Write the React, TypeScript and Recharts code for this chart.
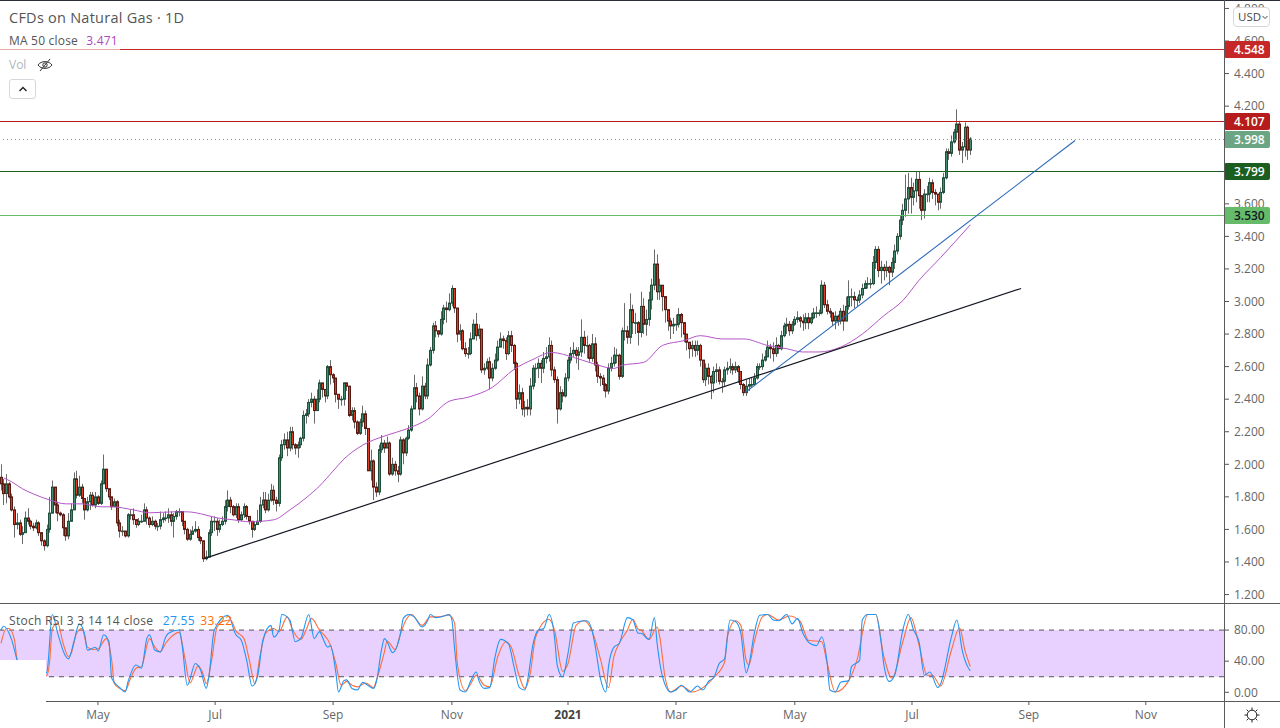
import React from "react";
import { ComposedChart, Bar, Line, XAxis, YAxis, ReferenceLine, ReferenceArea } from "recharts";

const FONT = "'Open Sans', sans-serif";

// daily closes, one per bar
const closes = [
  1.88,1.82,1.88,1.80,1.72,1.63,1.64,1.57,1.58,1.67,
  1.65,1.62,1.61,1.64,1.58,1.53,1.50,1.60,1.70,1.86,
  1.75,1.70,1.69,1.61,1.56,1.65,1.72,1.91,1.81,1.86,
  1.79,1.72,1.77,1.81,1.75,1.80,1.76,1.88,1.97,1.85,
  1.80,1.74,1.77,1.64,1.59,1.59,1.56,1.69,1.69,1.66,
  1.63,1.65,1.65,1.72,1.67,1.63,1.65,1.62,1.62,1.66,
  1.67,1.67,1.69,1.65,1.68,1.71,1.71,1.65,1.60,1.54,
  1.57,1.59,1.60,1.55,1.53,1.42,1.43,1.58,1.65,1.65,
  1.60,1.63,1.65,1.74,1.78,1.74,1.69,1.74,1.66,1.69,
  1.74,1.68,1.65,1.60,1.63,1.65,1.75,1.78,1.72,1.78,
  1.84,1.78,1.76,2.04,2.12,2.15,2.10,2.20,2.12,2.10,
  2.12,2.16,2.30,2.31,2.38,2.40,2.33,2.40,2.50,2.46,
  2.42,2.60,2.55,2.53,2.43,2.40,2.40,2.50,2.48,2.30,
  2.33,2.26,2.19,2.26,2.31,2.22,1.96,2.02,1.86,1.83,
  2.09,2.13,2.10,2.13,1.94,2.00,1.96,1.94,2.15,2.07,
  2.16,2.21,2.34,2.47,2.42,2.34,2.48,2.42,2.61,2.70,
  2.85,2.82,2.80,2.89,2.96,2.95,2.99,3.08,2.96,2.80,
  2.82,2.71,2.68,2.68,2.77,2.86,2.79,2.83,2.58,2.59,
  2.63,2.53,2.59,2.64,2.72,2.77,2.76,2.68,2.79,2.73,
  2.62,2.40,2.44,2.34,2.35,2.34,2.48,2.59,2.59,2.62,
  2.59,2.65,2.66,2.73,2.58,2.52,2.34,2.44,2.42,2.53,
  2.64,2.68,2.70,2.67,2.69,2.78,2.73,2.73,2.65,2.74,
  2.61,2.54,2.53,2.49,2.45,2.59,2.62,2.67,2.67,2.54,
  2.82,2.82,2.78,2.95,2.87,2.87,2.81,2.97,2.86,2.89,
  3.01,3.10,3.23,3.06,3.10,3.03,2.95,2.88,2.85,2.86,
  2.86,2.92,2.87,2.80,2.75,2.71,2.73,2.70,2.73,2.64,
  2.52,2.59,2.54,2.50,2.57,2.58,2.51,2.51,2.58,2.59,
  2.60,2.58,2.60,2.57,2.49,2.44,2.48,2.49,2.49,2.53,
  2.60,2.60,2.64,2.66,2.72,2.71,2.68,2.73,2.71,2.79,
  2.85,2.86,2.82,2.86,2.89,2.90,2.88,2.87,2.90,2.87,
  2.90,2.93,2.93,2.93,3.10,2.98,2.94,2.93,2.88,2.91,
  2.88,2.94,2.88,2.97,3.03,3.03,3.01,3.01,3.04,3.08,
  3.11,3.11,3.11,3.24,3.32,3.19,3.21,3.19,3.21,3.18,
  3.24,3.31,3.40,3.50,3.56,3.63,3.70,3.64,3.68,3.75,
  3.65,3.56,3.66,3.66,3.73,3.67,3.66,3.61,3.67,3.76,
  3.92,3.91,3.98,4.04,4.09,3.93,3.95,4.07,3.93,3.998,
];

const firstOpen = 1.92;

const highs = [
  2.00,1.91,1.94,1.89,1.82,1.74,1.70,1.66,1.62,1.71,
  1.73,1.66,1.64,1.66,1.65,1.58,1.54,1.63,1.80,1.90,
  1.86,1.77,1.71,1.70,1.60,1.70,1.76,1.95,1.96,1.93,
  1.88,1.78,1.80,1.83,1.83,1.83,1.81,1.90,2.06,1.97,
  1.85,1.78,1.79,1.78,1.66,1.62,1.59,1.70,1.72,1.73,
  1.66,1.67,1.69,1.76,1.74,1.68,1.68,1.66,1.64,1.71,
  1.70,1.71,1.73,1.71,1.70,1.72,1.73,1.70,1.63,1.61,
  1.60,1.62,1.65,1.62,1.56,1.53,1.47,1.60,1.68,1.68,
  1.67,1.66,1.68,1.78,1.84,1.80,1.75,1.76,1.76,1.71,
  1.76,1.75,1.67,1.65,1.65,1.72,1.80,1.83,1.83,1.82,
  1.88,1.87,1.80,2.06,
  2.15,2.19,2.20,2.23,2.23,2.13,2.14,2.17,2.33,2.34,2.40,2.44,2.42,2.46,2.52,2.50,
  2.45,2.61,2.64,2.56,2.50,2.43,2.42,2.50,2.49,2.48,2.35,2.35,2.27,2.28,2.36,2.33,2.22,2.09,2.03,1.89,
  2.12,2.18,2.15,2.17,2.14,2.04,2.02,1.99,2.17,2.16,2.17,2.24,2.36,2.55,2.50,2.44,
  2.54,2.50,2.65,2.72,2.87,2.88,2.82,2.94,2.98,3.00,3.05,3.10,3.06,2.84,2.86,2.83,2.75,2.72,2.81,2.89,
  2.93,2.86,2.83,2.62,2.65,2.66,2.62,2.68,2.76,2.81,2.79,2.78,2.82,2.82,2.74,2.63,2.49,2.47,2.39,2.40,
  2.53,2.61,2.62,2.65,2.64,2.69,2.72,2.78,2.76,2.60,2.54,2.48,2.46,2.56,2.66,2.72,2.75,2.72,2.72,2.89,
  2.82,2.79,2.74,2.80,2.78,2.63,2.56,2.55,2.50,2.62,2.66,2.72,2.71,2.68,2.84,2.99,2.85,3.05,2.98,2.93,2.88,
  3.06,3.02,2.95,3.06,3.14,3.32,3.29,3.14,3.07,3.01,2.92,2.90,2.90,2.92,2.96,2.93,2.85,2.79,2.75,2.76,
  2.76,2.76,2.74,2.64,2.62,2.62,2.55,2.60,2.62,2.60,2.53,2.60,2.63,2.65,2.62,2.63,2.61,2.54,2.50,2.52,
  2.53,2.53,2.56,2.62,2.62,2.68,2.70,2.76,2.74,2.75,2.78,2.74,2.82,2.87,2.90,2.88,2.88,2.91,2.94,2.91,
  2.92,2.93,2.93,2.93,2.96,2.97,2.95,3.13,3.12,3.01,2.96,2.93,2.94,2.92,2.96,2.98,3.03,3.13,3.08,3.06,
  3.03,3.07,3.11,3.13,3.15,3.14,3.28,3.34,3.34,3.25,3.23,3.25,3.22,3.27,3.35,
  3.42,3.53,3.60,3.78,3.79,3.76,3.73,3.80,3.80,3.61,3.69,3.71,3.76,3.75,3.69,3.64,3.70,3.79,3.94,3.94,
  4.02,4.06,4.18,4.11,3.98,4.10,4.08,4.01,
];

const lows = [
  1.84,1.75,1.76,1.79,1.71,1.55,1.60,1.56,1.51,1.60,
  1.63,1.60,1.59,1.60,1.56,1.50,1.47,1.49,1.58,1.70,
  1.70,1.65,1.68,1.56,1.53,1.54,1.70,1.72,1.79,1.80,
  1.76,1.66,1.71,1.72,1.74,1.73,1.75,1.75,1.88,1.83,
  1.78,1.72,1.74,1.62,1.55,1.56,1.55,1.55,1.66,1.63,
  1.61,1.62,1.64,1.66,1.63,1.61,1.62,1.60,1.59,1.60,
  1.64,1.65,1.64,1.62,1.55,1.66,1.68,1.62,1.57,1.53,
  1.53,1.57,1.58,1.53,1.51,1.40,1.41,1.43,1.56,1.59,
  1.56,1.58,1.62,1.63,1.71,1.70,1.68,1.67,1.64,1.65,
  1.67,1.66,1.63,1.55,1.59,1.64,1.64,1.73,1.70,1.71,
  1.77,1.75,1.71,1.74,
  2.02,2.09,2.05,2.08,2.09,2.06,2.04,2.10,2.14,2.25,2.29,2.35,2.25,2.33,2.38,2.41,
  2.38,2.40,2.49,2.50,2.38,2.34,2.36,2.36,2.45,2.29,2.27,2.22,2.18,2.18,2.23,2.18,1.96,1.90,1.78,1.80,
  1.81,2.07,2.07,2.10,1.93,1.93,1.93,1.89,1.93,2.00,2.05,2.15,2.20,2.34,2.38,2.30,
  2.33,2.40,2.40,2.60,2.68,2.78,2.78,2.79,2.86,2.87,2.94,2.97,2.93,2.75,2.76,2.70,2.66,2.65,2.67,2.78,
  2.76,2.77,2.56,2.55,2.58,2.46,2.51,2.58,2.63,2.72,2.71,2.64,2.67,2.69,2.58,2.34,2.37,2.30,2.29,2.30,
  2.30,2.46,2.50,2.53,2.50,2.56,2.62,2.63,2.54,2.50,2.25,2.33,2.38,2.41,2.51,2.62,2.66,2.62,2.58,2.66,
  2.68,2.65,2.63,2.63,2.57,2.50,2.48,2.45,2.41,2.43,2.57,2.60,2.62,2.52,2.53,2.76,2.74,2.74,2.80,2.80,2.73,
  2.78,2.80,2.79,2.85,2.95,3.07,3.01,3.01,2.94,2.87,2.82,2.77,2.80,2.82,2.84,2.78,2.75,2.70,2.65,2.66,
  2.66,2.67,2.60,2.50,2.48,2.49,2.40,2.44,2.50,2.49,2.44,2.48,2.55,2.56,2.55,2.56,2.50,2.46,2.42,2.42,
  2.45,2.47,2.48,2.52,2.58,2.58,2.63,2.66,2.65,2.63,2.66,2.68,2.70,2.78,2.80,2.79,2.80,2.85,2.87,2.84,
  2.82,2.83,2.83,2.86,2.89,2.90,2.91,2.92,2.96,2.92,2.90,2.85,2.83,2.85,2.86,2.82,2.88,2.95,2.97,2.96,
  2.97,2.99,3.02,3.08,3.08,3.08,3.10,3.20,3.15,3.11,3.13,3.15,3.10,3.15,3.20,
  3.29,3.38,3.47,3.52,3.54,3.54,3.59,3.61,3.57,3.50,3.51,3.61,3.61,3.63,3.59,3.56,3.57,3.66,3.75,3.87,
  3.89,3.97,3.99,3.90,3.85,3.89,3.87,3.90,
];

// moving average, read at these bars
const maBars = [1,4,8,12,18,24,30,37,41,49,55,64,69,74,80,86,92,101,107,113,118,123,127,134,143,150,158,166,173,182,190,197,204,212,219,227,230,238,245,253,259,267,275,284,291,297,303,311,319,327,334,340,348,359];
const maValues = [1.916,1.892,1.849,1.818,1.781,1.757,1.757,1.739,1.739,1.72,1.702,1.708,1.708,1.696,1.671,1.659,1.647,1.659,1.72,1.794,1.867,1.959,2.032,2.118,2.179,2.216,2.277,2.387,2.412,2.473,2.583,2.644,2.687,2.657,2.62,2.589,2.608,2.626,2.73,2.76,2.79,2.77,2.77,2.73,2.71,2.69,2.69,2.72,2.80,2.913,3.006,3.13,3.27,3.471];

// stoch rsi %K, read at these bars
const kBars = [0,1,4,6,8,14,17,19,21,24,25,27,29,31,32,35,36,38,40,41,44,46,47,50,52,54,55,57,59,61,62,66,67,69,72,74,76,77,79,84,87,89,91,93,95,97,100,101,103,104,107,109,111,114,116,118,119,121,122,124,125,127,128,130,132,134,135,138,139,141,142,143,145,148,149,151,153,156,158,159,161,163,166,167,168,170,172,174,176,177,179,181,183,185,188,190,192,194,195,197,199,201,203,205,206,208,210,212,214,217,219,220,222,224,225,227,229,232,234,236,237,240,242,243,245,248,250,252,255,258,260,262,264,266,268,270,272,274,276,277,279,281,284,286,288,291,293,295,297,300,302,304,306,307,309,311,314,315,318,319,321,324,326,327,329,331,334,336,338,340,342,344,347,348,352,354,356,358,359];
const kValues = [80,85,67,41,25,20,26,100,76,46,43,65,88,74,54,58,53,74,65,18,6,0.5,13,35,31,69,74,54,52,71,76,80,63,9,37,28,5,20,80,99,74,67,41,8,20,67,86,71,80,100,93,65,69,100,69,78,71,58,60,26,0.4,15,16,5,3,13,11,5,13,56,69,65,51,76,95,100,97,84,92,100,96,97,100,93,56,3,0.4,15,26,15,5,6,46,68,62,33,6,3,15,61,80,82,100,71,35,20,50,89,91,92,78,61,18,0.4,33,58,63,96,93,76,76,68,96,63,20,0.4,3,9,0.4,8,3,14,19,37,43,93,91,76,25,35,76,99,100,93,92,100,88,95,76,62,60,71,37,3,0.4,13,15,33,41,93,100,100,63,35,14,22,80,100,80,65,22,26,6,11,71,93,54,33,27.55];

// stoch rsi %D, read at these bars
const dBars = [0,2,3,5,6,10,14,17,18,19,21,23,25,26,28,30,32,34,36,39,41,42,44,46,48,50,52,55,57,59,61,64,66,68,70,73,75,76,78,80,82,85,87,90,92,94,96,98,101,103,106,108,111,113,115,118,119,122,124,126,128,130,132,135,138,139,142,143,146,148,150,152,156,159,162,166,168,169,172,174,176,179,181,184,187,189,192,194,196,198,203,205,208,210,213,216,219,222,225,227,229,232,234,236,237,240,243,244,246,248,252,256,260,264,268,269,272,274,276,277,279,282,284,288,292,296,299,304,306,309,314,317,321,324,327,330,334,337,340,343,345,348,352,355,357,359];
const dValues = [63,82,82,67,41,20,20,22,39,82,89,63,46,50,76,82,58,55,56,69,41,11,5,2,18,31,33,69,58,52,63,74,77,46,12,34,22,11,41,84,91,93,79,69,41,11,48,76,82,78,97,80,68,80,95,80,76,61,37,9,14,9,7,12,6,15,52,66,55,76,93,100,86,97,97,99,89,37,2,11,22,9,7,46,65,58,20,5,24,71,94,80,27,37,86,92,78,43,6,46,63,80,94,81,80,68,84,71,18,0.4,8,0.4,6,19,39,71,92,86,41,35,65,97,100,93,98,91,67,65,37,0.4,15,41,100,100,46,18,65,96,61,22,22,8,54,83,54,33.22];

// 3.800 and 4.000 sit behind the price tags in the picture
const priceTicks = [1.2,1.4,1.6,1.8,2.0,2.2,2.4,2.6,2.8,3.0,3.2,3.4,3.6,4.2,4.4,4.6,4.8];
const stochTicks = [0,40,80];
const timeBars = [35.9,79.3,123,167,210,250,294,337.4,380.7,424];
const timeLabels = ["May","Jul","Sep","Nov","2021","Mar","May","Jul","Sep","Nov"];

const levelPrices = [4.548,4.107,3.998,3.799,3.53];
const levelColors = ["#c62828","#b71c1c","#6ba583","#1b5e20","#66bb6a"];
const levelText = ["#fff","#fff","#fff","#fff","#131722"];

// trend lines, start and end as bar, price
const blackTrendBars = [75.2,377.8];
const blackTrendPrices = [1.421,3.08];
const blueTrendBars = [275.6,397.8];
const blueTrendPrices = [2.441,3.989];

const lookup = (bars: number[], values: number[]) => {
  const m = new Map<number, number>();
  bars.forEach((b, i) => m.set(b, values[i]));
  return m;
};
const maMap = lookup(maBars, maValues);
const kMap = lookup(kBars, kValues);
const dMap = lookup(dBars, dValues);

const rows = closes.map((close, i) => {
  const open = i === 0 ? firstOpen : closes[i - 1];
  const high = Math.max(highs[i], open, close);
  const low = Math.min(lows[i], open, close);
  return {
    i, open, close, high, low,
    range: [low, high],
    ma: maMap.has(i) ? maMap.get(i) : null,
    k: kMap.has(i) ? kMap.get(i) : null,
    d: dMap.has(i) ? dMap.get(i) : null,
  };
});

const xDomain = [-0.37, 452.96];
const priceDomain = [1.148, 4.852];

const Candle = (props: any) => {
  const { x, y, width, height, payload } = props;
  const { open, close, high, low } = payload;
  const cx = Math.round(x + width / 2) + 0.5;
  const span = high - low || 1;
  const at = (v: number) => y + ((high - v) / span) * height;
  const top = at(Math.max(open, close));
  const bottom = at(Math.min(open, close));
  const up = close >= open;
  return (
    <g>
      <line x1={cx} x2={cx} y1={y} y2={y + height} stroke="#6a6a6a" strokeWidth={1} />
      <rect
        x={cx - 1}
        y={top}
        width={2}
        height={Math.max(bottom - top, 0.6)}
        fill={up ? "#3f8f6f" : "#dc3f28"}
        stroke={up ? "#1f4f3a" : "#5a1a12"}
        strokeWidth={1}
      />
    </g>
  );
};

const PriceTag = ({ viewBox, value, fill, color }: any) => {
  const y = Math.floor(viewBox.y);
  const left = viewBox.x + viewBox.width;
  return (
    <g>
      <rect x={left} y={y - 8} width={46} height={17} rx={2} fill={fill} />
      <text x={left + 10} y={y + 5} fill={color} fontSize={12} fontWeight={600} fontFamily={FONT}>
        {value.toFixed(3)}
      </text>
    </g>
  );
};

const TimeTick = (props: any) => {
  const { x, y, index } = props;
  const label = timeLabels[index];
  const bold = label === "2021";
  return (
    <text x={x} y={y + 12} textAnchor="middle" fill={bold ? "#444" : "#666"} fontSize={12} fontWeight={bold ? 700 : 400} fontFamily={FONT}>
      {label}
    </text>
  );
};

const abs = (left: number, top: number, extra: React.CSSProperties = {}): React.CSSProperties => ({
  position: "absolute", left, top, whiteSpace: "nowrap", fontFamily: FONT, ...extra,
});

export default function App() {
  return (
    <div style={{ position: "fixed", left: 0, top: 0, width: 1280, height: 728, background: "#fff", overflow: "hidden" }}>
      <div style={abs(0, 0)}>
        <ComposedChart width={1280} height={603} data={rows} margin={{ top: 0, right: 0, bottom: 0, left: 0 }}>
          <XAxis dataKey="i" type="number" domain={xDomain} hide />
          <YAxis
            orientation="right"
            width={56}
            domain={priceDomain}
            allowDataOverflow
            ticks={priceTicks}
            interval={0}
            axisLine={false}
            tickSize={5}
            tickMargin={5}
            tickLine={{ stroke: "#555" }}
            tick={{ fill: "#666", fontSize: 12, fontFamily: FONT }}
            tickFormatter={(v: number) => v.toFixed(3)}
          />
          {levelPrices.map((p, n) => (
            <ReferenceLine
              key={p}
              y={p}
              stroke={levelColors[n]}
              strokeWidth={1}
              shapeRendering="crispEdges"
              strokeDasharray={n === 2 ? "1 3" : undefined}
            />
          ))}
          <Bar dataKey="range" barSize={2} shape={<Candle />} isAnimationActive={false} />
          <Line dataKey="ma" type="monotone" connectNulls dot={false} stroke="#b455c8" strokeWidth={1} isAnimationActive={false} />
          <ReferenceLine
            segment={[
              { x: blackTrendBars[0], y: blackTrendPrices[0] },
              { x: blackTrendBars[1], y: blackTrendPrices[1] },
            ]}
            stroke="#131722"
            strokeWidth={1.2}
          />
          <ReferenceLine
            segment={[
              { x: blueTrendBars[0], y: blueTrendPrices[0] },
              { x: blueTrendBars[1], y: blueTrendPrices[1] },
            ]}
            stroke="#2a68b8"
            strokeWidth={1.1}
          />
        </ComposedChart>
      </div>

      <div style={abs(0, 603)}>
        <ComposedChart width={1280} height={125} data={rows} margin={{ top: 0, right: 0, bottom: 0, left: 0 }}>
          <XAxis
            dataKey="i"
            type="number"
            domain={xDomain}
            ticks={timeBars}
            interval={0}
            height={27}
            axisLine={false}
            tickSize={4}
            tickLine={{ stroke: "#555" }}
            tick={<TimeTick />}
          />
          <YAxis
            orientation="right"
            width={56}
            domain={[-11.2, 114.8]}
            allowDataOverflow
            ticks={stochTicks}
            interval={0}
            axisLine={false}
            tickSize={5}
            tickMargin={5}
            tickLine={{ stroke: "#555" }}
            tick={{ fill: "#666", fontSize: 12, fontFamily: FONT }}
            tickFormatter={(v: number) => v.toFixed(2)}
          />
          <ReferenceArea y1={20} y2={80} fill="#e8d0ff" fillOpacity={1} stroke="none" />
          <ReferenceLine y={80} stroke="#555" strokeDasharray="5 5" />
          <ReferenceLine y={20} stroke="#555" strokeDasharray="5 5" />
          <Line dataKey="d" type="monotone" connectNulls dot={false} stroke="#ff6d3a" strokeWidth={1.1} isAnimationActive={false} />
          <Line dataKey="k" type="monotone" connectNulls dot={false} stroke="#2196f3" strokeWidth={1.1} isAnimationActive={false} />
        </ComposedChart>
      </div>

      {/* price tags go on a chart of their own so they cover the axis labels */}
      <div style={abs(0, 0)}>
        <ComposedChart width={1280} height={603} data={rows} margin={{ top: 0, right: 56, bottom: 0, left: 0 }}>
          <XAxis dataKey="i" type="number" domain={xDomain} hide />
          <YAxis domain={priceDomain} allowDataOverflow hide />
          {levelPrices.map((p, n) => (
            <ReferenceLine
              key={p}
              y={p}
              stroke="none"
              label={(lp: any) => <PriceTag viewBox={lp.viewBox} value={p} fill={levelColors[n]} color={levelText[n]} />}
            />
          ))}
        </ComposedChart>
      </div>

      {/* rules of the panes */}
      <div style={abs(0, 0, { width: 1280, height: 1, background: "#2a2e39" })} />
      <div style={abs(0, 603, { width: 1280, height: 1, background: "#5a5a5a" })} />
      <div style={abs(0, 701, { width: 1280, height: 1, background: "#5a5a5a" })} />
      <div style={abs(1224, 0, { width: 1, height: 728, background: "#5a5a5a" })} />
      <div style={abs(0, 660, { width: 46, height: 68, background: "#fff" })} />

      {/* legend */}
      <div style={abs(9, 8, { fontSize: 14.5, letterSpacing: 0.25, lineHeight: "19px", color: "#555" })}>CFDs on Natural Gas · 1D</div>
      <div style={abs(0, 33, { width: 120, height: 17, background: "rgba(255,255,255,0.6)" })} />
      <div style={abs(9, 33, { fontSize: 12, letterSpacing: 0.2, lineHeight: "16px", color: "#555" })}>
        MA 50 close <span style={{ color: "#ab47bc", marginLeft: 5 }}>3.471</span>
      </div>
      <div style={abs(9, 57, { fontSize: 12, lineHeight: "16px", color: "#b2b5be" })}>Vol</div>
      <svg style={abs(37, 57)} width={16} height={16} viewBox="0 0 16 16" fill="none" stroke="#333" strokeWidth={1}>
        <path d="M1 8 C4 3.5 12 3.5 15 8 C12 12.5 4 12.5 1 8 Z" />
        <circle cx={8} cy={8} r={2.2} />
        <path d="M3 14 L13 2" />
      </svg>
      <div style={abs(9, 79, { width: 27, height: 20, border: "1px solid #d6d8de", borderRadius: 3, boxSizing: "border-box" })} />
      <svg style={abs(18, 85)} width={10} height={8} viewBox="0 0 10 8" fill="none" stroke="#222" strokeWidth={1.4}>
        <path d="M1.5 6 L5 2.5 L8.5 6" />
      </svg>
      <div style={abs(9, 613, { fontSize: 12, letterSpacing: 0.3, lineHeight: "16px", color: "#555" })}>
        Stoch RSI 3 3 14 14 close <span style={{ color: "#2196f3", marginLeft: 6 }}>27.55</span>{" "}
        <span style={{ color: "#ff6d00", marginLeft: 2 }}>33.22</span>
      </div>

      {/* currency button and settings glyph */}
      <div style={abs(1233, 7, { width: 37, height: 20, background: "#fff", border: "1px solid #d6d8de", borderRadius: 4, boxSizing: "border-box", fontSize: 11.5, lineHeight: "18px", color: "#444", paddingLeft: 4 })}>
        USD
        <svg style={{ position: "absolute", left: 28, top: 7 }} width={6} height={5} viewBox="0 0 6 5" fill="none" stroke="#444" strokeWidth={1}>
          <path d="M0.5 1 L3 3.5 L5.5 1" />
        </svg>
      </div>
      <svg style={abs(1244, 707)} width={16} height={16} viewBox="0 0 16 16" fill="none" stroke="#222" strokeWidth={1}>
        <circle cx={8} cy={8} r={4.8} />
        <path d="M8 0.5 V3 M8 13 V15.5 M0.5 8 H3 M13 8 H15.5 M2.7 2.7 L4.5 4.5 M11.5 11.5 L13.3 13.3 M13.3 2.7 L11.5 4.5 M4.5 11.5 L2.7 13.3" />
      </svg>
    </div>
  );
}
